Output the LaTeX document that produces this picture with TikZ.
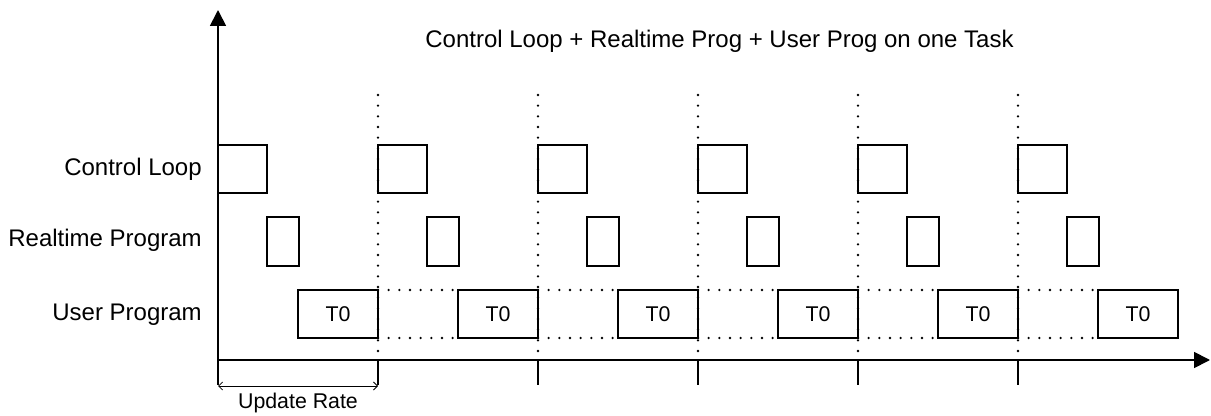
\documentclass[tikz,border=0pt]{standalone}
\usepackage{fontspec}
\setmainfont{Liberation Sans}
\usetikzlibrary{arrows.meta}
\begin{document}
\begin{tikzpicture}[x=0.75pt,y=-0.75pt,
  box/.style={draw,line width=1.3pt,inner sep=0pt,outer sep=0pt},
  lbl/.style={font=\fontsize{18}{20}\selectfont,inner sep=0pt,anchor=base east},
  small/.style={font=\fontsize{16}{18}\selectfont},
  axis/.style={line width=1.3pt},
  dots/.style={line width=1.9pt,line cap=round,dash pattern=on 0pt off 8pt},
  tip/.style={-{Triangle[length=12pt,width=12pt]}}]
\useasboundingbox (0,0) rectangle (1211,416);
% axes
\coordinate (ybot) at (218,385);
\coordinate (ytop) at (218,10);
\coordinate (O) at (218,360);
\coordinate (xend) at (1210,360);
\draw[axis,tip] (ybot) -- (ytop);
\draw[axis,tip] (O) -- (xend);
% title and labels
\node[font=\fontsize{18}{20}\selectfont,inner sep=0pt,anchor=base] (title) at (719.5,48) {Control Loop + Realtime Prog + User Prog on one Task};
\node[lbl] (lcl) at (202,176) {Control Loop};
\node[lbl] (lrt) at (202,247) {Realtime Program};
\node[lbl] (lup) at (202,321) {User Program};
% boxes
\foreach \k in {0,...,5}{
  \node[box,minimum width=36.75pt,minimum height=36pt] (cl\k) at ({242.5+160*\k},169) {};
  \node[box,minimum width=24pt,minimum height=36.75pt] (rt\k) at ({283+160*\k},241.5) {};
  \node[box,small,minimum width=60pt,minimum height=36pt] (up\k) at ({338+160*\k},314) {T0};
}
% period markers
\foreach \j in {0,...,4}{
  \coordinate (top\j) at ({378+160*\j},95);
  \coordinate (tick\j) at ({378+160*\j},360);
  \coordinate (tickb\j) at ({378+160*\j},385);
  \draw[dots] (top\j) -- (tick\j);
  \draw[axis] (tick\j) -- (tickb\j);
}
\foreach \j [evaluate=\j as \n using int(\j+1)] in {0,...,4}{
  \draw[dots] (up\j.north east) -- (up\n.north west);
  \draw[dots] (up\j.south east) -- (up\n.south west);
}
% update rate
\coordinate (ura) at (218,386);
\coordinate (urb) at (378,386);
\draw[line width=0.6pt,{Straight Barb[length=3pt,width=6pt]}-{Straight Barb[length=3pt,width=6pt]}] (ura) -- (urb);
\node[small,inner sep=0pt,anchor=base] (urlbl) at (298,409) {Update Rate};
\end{tikzpicture}
\end{document}
